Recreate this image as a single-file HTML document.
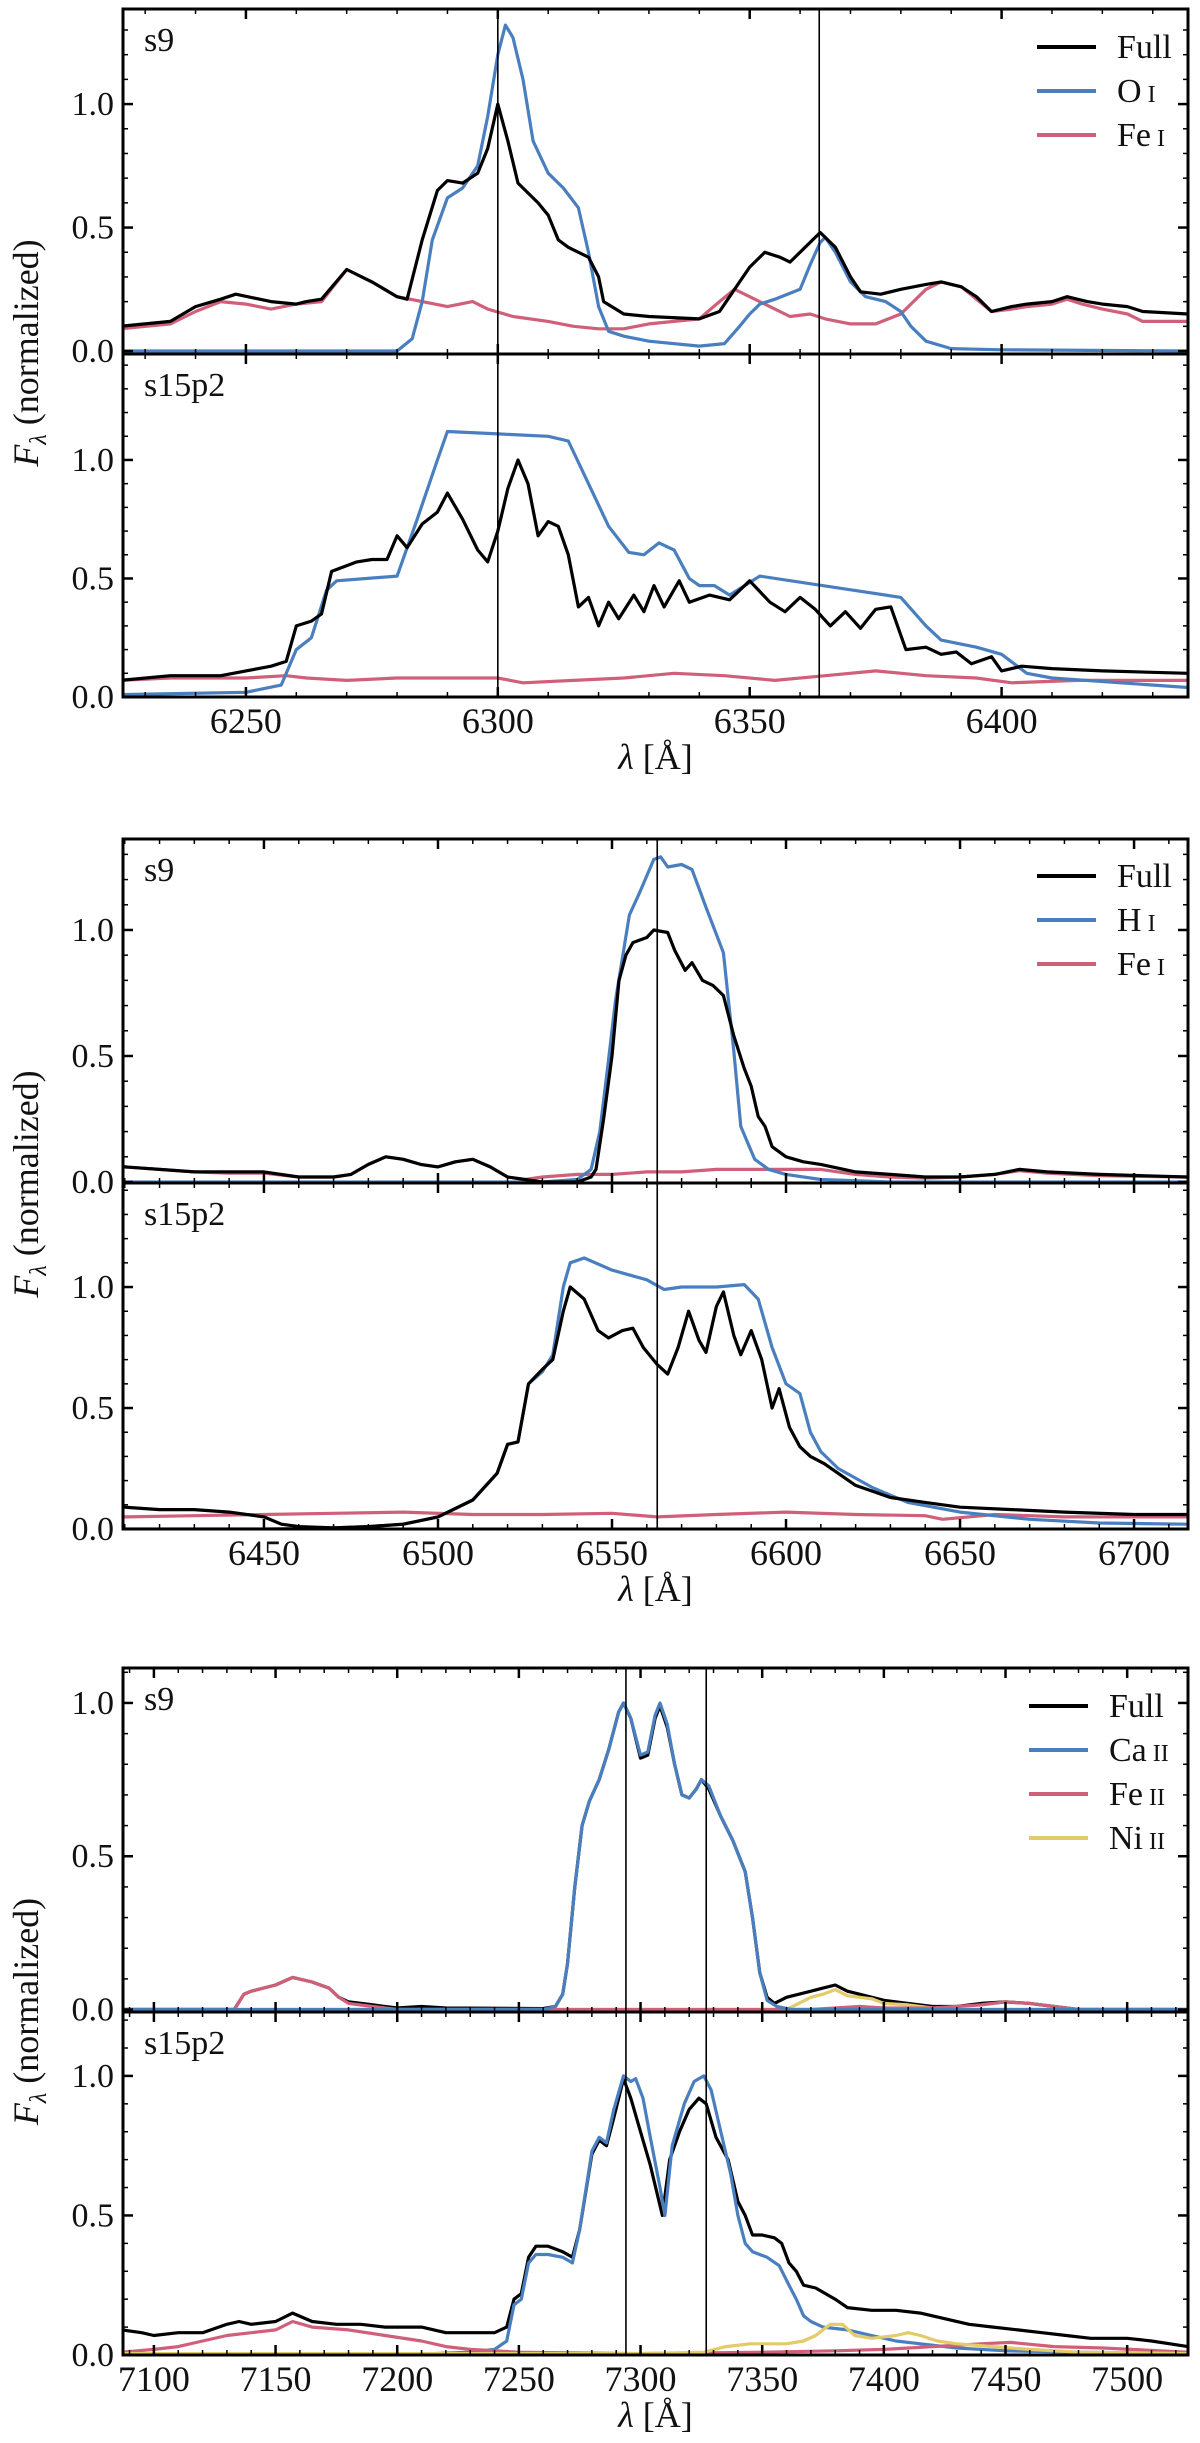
<!DOCTYPE html>
<html><head><meta charset="utf-8"><style>
html,body{margin:0;padding:0;background:#fff;}
svg{display:block;}
text{font-family:"Liberation Serif",serif;fill:#111;}
</style></head><body>
<svg id="chart" width="1200" height="2443" viewBox="0 0 1200 2443" xmlns="http://www.w3.org/2000/svg"></svg>
<script>
// ---------- Figure 1: [O I] 6300,6364 ----------
const f1TopFullX=[6225,6235,6240,6245,6248,6255,6260,6262,6265,6270,6275,6280,6282,6285,6288,6290,6293,6296,6298,6300,6302,6304,6308,6310,6312,6314,6316,6318,6320,6321,6325,6330,6340,6344,6346,6348,6350,6353,6356,6358,6361,6364,6367,6370,6372,6376,6380,6385,6388,6392,6395,6398,6402,6405,6410,6413,6417,6420,6425,6428,6437];
const f1TopFullY=[0.10,0.12,0.18,0.21,0.23,0.20,0.19,0.20,0.21,0.33,0.28,0.22,0.21,0.45,0.65,0.69,0.68,0.72,0.82,1.00,0.85,0.68,0.60,0.55,0.45,0.42,0.40,0.38,0.30,0.20,0.15,0.14,0.13,0.16,0.22,0.28,0.34,0.40,0.38,0.36,0.42,0.48,0.42,0.30,0.24,0.23,0.25,0.27,0.28,0.26,0.22,0.16,0.18,0.19,0.20,0.22,0.20,0.19,0.18,0.16,0.15];
const f1TopOX=[6225,6280,6283,6285,6287,6290,6293,6296,6298,6300,6301.5,6303,6305,6307,6310,6313,6316,6318,6320,6322,6325,6330,6340,6345,6348,6350,6352,6355,6360,6362,6364,6365,6367,6370,6373,6377,6380,6382,6385,6390,6400,6437];
const f1TopOY=[0,0,0.05,0.2,0.45,0.62,0.66,0.75,0.95,1.2,1.32,1.27,1.1,0.85,0.72,0.66,0.58,0.4,0.18,0.08,0.06,0.04,0.02,0.03,0.1,0.15,0.19,0.21,0.25,0.35,0.44,0.46,0.4,0.28,0.22,0.2,0.16,0.1,0.04,0.01,0.005,0];
const f1TopFeX=[6225,6235,6240,6245,6250,6255,6260,6265,6270,6275,6280,6285,6290,6295,6298,6303,6310,6315,6320,6325,6330,6335,6340,6344,6347,6350,6355,6358,6362,6365,6370,6375,6380,6385,6388,6392,6395,6398,6402,6405,6410,6413,6416,6420,6425,6428,6437];
const f1TopFeY=[0.09,0.11,0.16,0.2,0.19,0.17,0.19,0.2,0.33,0.28,0.22,0.2,0.18,0.2,0.17,0.14,0.12,0.1,0.09,0.09,0.11,0.12,0.13,0.2,0.25,0.22,0.17,0.14,0.15,0.13,0.11,0.11,0.15,0.25,0.28,0.26,0.21,0.16,0.17,0.18,0.19,0.21,0.19,0.17,0.15,0.12,0.12];
const f1BotFullX=[6225,6235,6245,6250,6255,6258,6260,6263,6265,6267,6272,6275,6278,6280,6282,6285,6288,6290,6293,6296,6298,6300,6302,6304,6306,6308,6310,6312,6314,6316,6318,6320,6322,6324,6327,6329,6331,6333,6336,6338,6342,6346,6350,6354,6357,6360,6363,6366,6369,6372,6375,6378,6381,6385,6388,6391,6394,6398,6400,6404,6410,6420,6437];
const f1BotFullY=[0.07,0.09,0.09,0.11,0.13,0.15,0.3,0.32,0.35,0.53,0.57,0.58,0.58,0.68,0.63,0.73,0.78,0.86,0.75,0.62,0.57,0.7,0.88,1.0,0.9,0.68,0.74,0.72,0.6,0.38,0.42,0.3,0.4,0.33,0.43,0.36,0.47,0.38,0.49,0.4,0.43,0.41,0.49,0.4,0.36,0.42,0.37,0.3,0.36,0.29,0.37,0.38,0.2,0.21,0.18,0.19,0.14,0.17,0.11,0.13,0.12,0.11,0.1];
const f1BotOX=[6225,6250,6257,6260,6263,6266,6268,6280,6284,6288,6290,6300,6310,6314,6318,6322,6326,6329,6332,6335,6338,6340,6343,6346,6352,6380,6385,6388,6395,6400,6405,6410,6437];
const f1BotOY=[0.01,0.02,0.05,0.2,0.25,0.45,0.49,0.51,0.75,1.0,1.12,1.11,1.1,1.08,0.9,0.72,0.61,0.6,0.65,0.62,0.5,0.47,0.47,0.43,0.51,0.42,0.3,0.24,0.21,0.18,0.1,0.08,0.04];
const f1BotFeX=[6225,6235,6250,6258,6262,6270,6280,6290,6300,6305,6315,6325,6335,6345,6355,6365,6375,6385,6395,6402,6415,6437];
const f1BotFeY=[0.07,0.08,0.08,0.09,0.08,0.07,0.08,0.08,0.08,0.06,0.07,0.08,0.1,0.09,0.07,0.09,0.11,0.09,0.08,0.06,0.07,0.07];

// ---------- Figure 2: H-alpha ----------
const f2TopFullX=[6410,6420,6430,6440,6450,6460,6470,6475,6480,6485,6490,6495,6500,6505,6510,6515,6520,6525,6530,6540,6544,6545.4,6547.6,6550,6552,6554,6556,6560,6562,6566,6568,6571,6573,6576,6579,6582,6585,6588,6590,6592,6594,6596,6600,6605,6610,6620,6630,6640,6650,6660,6667,6675,6690,6715];
const f2TopFullY=[0.06,0.05,0.04,0.04,0.04,0.02,0.02,0.03,0.07,0.1,0.09,0.07,0.06,0.08,0.09,0.06,0.02,0.01,0.0,0.0,0.02,0.05,0.25,0.5,0.8,0.9,0.95,0.97,1.0,0.99,0.92,0.84,0.87,0.8,0.78,0.74,0.58,0.45,0.38,0.26,0.22,0.14,0.1,0.08,0.07,0.04,0.03,0.02,0.02,0.03,0.05,0.04,0.03,0.02];
const f2TopHX=[6410,6530,6540,6544,6546.5,6548.7,6551,6555,6558,6562,6564,6566,6570,6573,6577,6582,6585,6587,6591,6595,6600,6610,6630,6715];
const f2TopHY=[0,0,0.01,0.05,0.2,0.45,0.72,1.06,1.15,1.28,1.29,1.25,1.26,1.24,1.09,0.91,0.52,0.22,0.09,0.05,0.03,0.01,0.0,0.0];
const f2TopFeX=[6410,6420,6430,6440,6450,6460,6470,6475,6480,6485,6490,6495,6500,6505,6510,6515,6520,6525,6530,6540,6550,6560,6570,6580,6590,6600,6610,6620,6630,6640,6650,6660,6667,6675,6690,6715];
const f2TopFeY=[0.06,0.05,0.04,0.035,0.035,0.02,0.02,0.03,0.07,0.1,0.09,0.07,0.06,0.08,0.09,0.06,0.02,0.01,0.02,0.03,0.03,0.04,0.04,0.05,0.05,0.05,0.05,0.03,0.02,0.015,0.02,0.03,0.045,0.035,0.025,0.02];
const f2BotFullX=[6410,6420,6430,6440,6450,6455,6460,6470,6480,6490,6500,6510,6517,6520,6523,6526,6530,6533,6536,6538,6542,6546,6549,6553,6556,6559,6563,6566,6569,6572,6575,6577,6580,6582,6585,6587,6590,6593,6596,6598,6601,6604,6607,6611,6620,6630,6640,6650,6665,6680,6700,6715];
const f2BotFullY=[0.09,0.08,0.08,0.07,0.05,0.02,0.01,0.005,0.01,0.02,0.05,0.12,0.23,0.35,0.36,0.6,0.66,0.7,0.9,1.0,0.95,0.82,0.79,0.82,0.83,0.75,0.68,0.64,0.75,0.9,0.78,0.73,0.92,0.98,0.8,0.72,0.82,0.7,0.5,0.58,0.42,0.34,0.3,0.27,0.18,0.13,0.11,0.09,0.08,0.07,0.06,0.06];
const f2BotHX=[6410,6450,6470,6480,6490,6500,6510,6517,6520,6523,6526,6530,6533,6536,6538,6542,6550,6560,6565,6570,6580,6588,6592,6596,6600,6604,6607,6610,6615,6625,6635,6650,6670,6690,6715];
const f2BotHY=[0,0,0.005,0.01,0.02,0.05,0.12,0.23,0.35,0.36,0.6,0.65,0.72,1.0,1.1,1.12,1.07,1.03,0.99,1.0,1.0,1.01,0.95,0.75,0.6,0.56,0.4,0.32,0.25,0.17,0.11,0.07,0.04,0.025,0.02];
const f2BotFeX=[6410,6430,6450,6470,6490,6510,6530,6550,6563,6580,6600,6620,6640,6645,6660,6680,6700,6715];
const f2BotFeY=[0.05,0.055,0.06,0.065,0.07,0.06,0.06,0.065,0.05,0.06,0.07,0.06,0.055,0.04,0.06,0.05,0.05,0.05];

// ---------- Figure 3: [Ca II] 7291,7323 ----------
const f3TopFullX=[7087,7133,7137,7140,7150,7157,7165,7172,7176,7180,7190,7200,7210,7220,7260,7265,7268,7270,7273,7276,7279,7283,7287,7291,7293,7296,7300,7303,7306,7308,7311,7314,7317,7320,7323,7325,7328,7333,7338,7343,7346,7349,7352,7355,7360,7370,7375,7380,7385,7390,7400,7410,7420,7430,7440,7450,7460,7470,7480,7525];
const f3TopFullY=[0,0,0.05,0.06,0.08,0.105,0.09,0.07,0.04,0.025,0.015,0.005,0.01,0.005,0.003,0.01,0.05,0.15,0.4,0.6,0.68,0.75,0.85,0.97,1.0,0.95,0.82,0.83,0.95,0.99,0.92,0.8,0.7,0.69,0.72,0.75,0.72,0.63,0.55,0.45,0.3,0.12,0.04,0.02,0.04,0.06,0.07,0.08,0.06,0.05,0.03,0.02,0.01,0.01,0.02,0.025,0.02,0.01,0.0,0.0];
const f3TopCaX=[7087,7260,7265,7268,7270,7273,7276,7279,7283,7287,7291,7293,7296,7300,7303,7306,7308,7311,7314,7317,7320,7323,7325,7328,7333,7338,7343,7346,7349,7352,7356,7362,7525];
const f3TopCaY=[0,0,0.01,0.05,0.15,0.4,0.6,0.68,0.75,0.85,0.97,1.0,0.95,0.83,0.84,0.96,1.0,0.93,0.8,0.7,0.69,0.72,0.75,0.73,0.63,0.55,0.45,0.3,0.12,0.03,0.01,0,0];
const f3TopFeX=[7087,7133,7137,7140,7150,7157,7165,7172,7176,7180,7190,7200,7370,7380,7390,7400,7420,7440,7450,7460,7470,7480,7525];
const f3TopFeY=[0,0,0.05,0.06,0.08,0.105,0.09,0.07,0.04,0.02,0.01,0,0,0.005,0.01,0.005,0.005,0.015,0.025,0.02,0.01,0,0];
const f3TopNiX=[7087,7360,7365,7370,7375,7380,7385,7390,7395,7400,7410,7415,7420,7430,7525];
const f3TopNiY=[0,0,0.02,0.04,0.05,0.065,0.045,0.04,0.035,0.02,0.015,0.01,0.005,0,0];
const f3BotFullX=[7087,7095,7100,7110,7120,7130,7135,7140,7150,7157,7165,7175,7185,7195,7210,7220,7240,7245,7248,7251,7254,7257,7262,7268,7272,7275,7280,7283,7286,7289,7293,7296,7300,7304,7309,7312,7316,7320,7324,7327,7331,7336,7340,7343,7346,7350,7355,7358,7361,7364,7367,7372,7380,7385,7395,7405,7415,7425,7435,7445,7455,7465,7475,7485,7500,7510,7525];
const f3BotFullY=[0.09,0.08,0.07,0.08,0.08,0.11,0.12,0.11,0.12,0.15,0.12,0.11,0.11,0.1,0.1,0.08,0.08,0.1,0.2,0.22,0.35,0.39,0.39,0.37,0.35,0.45,0.72,0.77,0.75,0.85,0.99,0.92,0.8,0.68,0.5,0.7,0.8,0.88,0.92,0.9,0.78,0.7,0.55,0.5,0.43,0.43,0.42,0.4,0.33,0.3,0.25,0.24,0.2,0.17,0.16,0.16,0.15,0.13,0.11,0.1,0.09,0.08,0.07,0.06,0.06,0.05,0.03];
const f3BotCaX=[7087,7200,7230,7240,7245,7248,7251,7254,7257,7262,7268,7272,7275,7280,7283,7286,7289,7293,7296,7298,7301,7304,7308,7310,7313,7318,7322,7326,7329,7333,7337,7340,7343,7346,7352,7357,7361,7364,7367,7370,7375,7385,7395,7405,7415,7430,7450,7480,7525];
const f3BotCaY=[0,0,0.01,0.02,0.05,0.18,0.2,0.33,0.36,0.36,0.35,0.33,0.45,0.73,0.78,0.76,0.88,1.0,0.98,0.99,0.92,0.78,0.6,0.5,0.75,0.9,0.98,1.0,0.95,0.8,0.65,0.5,0.4,0.37,0.35,0.32,0.25,0.2,0.14,0.12,0.1,0.09,0.07,0.05,0.04,0.025,0.015,0.01,0.005];
const f3BotFeX=[7087,7100,7110,7120,7130,7140,7150,7157,7165,7180,7195,7210,7220,7230,7250,7300,7350,7380,7400,7420,7440,7452,7470,7490,7525];
const f3BotFeY=[0.01,0.02,0.03,0.05,0.07,0.08,0.09,0.12,0.1,0.09,0.07,0.05,0.03,0.02,0.01,0.005,0.01,0.015,0.02,0.03,0.04,0.045,0.03,0.025,0.01];
const f3BotNiX=[7087,7300,7326,7335,7345,7360,7367,7372,7378,7383,7388,7395,7405,7410,7415,7422,7430,7445,7460,7480,7525];
const f3BotNiY=[0.005,0.005,0.01,0.03,0.04,0.04,0.05,0.07,0.11,0.11,0.07,0.06,0.07,0.08,0.07,0.05,0.04,0.03,0.02,0.01,0.005];

const figXTicks1=[6250,6300,6350,6400];
const figXTicks2=[6450,6500,6550,6600,6650,6700];
const figXTicks3=[7100,7150,7200,7250,7300,7350,7400,7450,7500];
const yTickLabels=["0.0","0.5","1.0"];
const yTickVals=[0,0.5,1.0];
const vlines1=[6300,6363.8];
const vlines2=[6563];
const vlines3=[7294,7327];

const NS="http://www.w3.org/2000/svg";
const svg=document.getElementById('chart');
const C={full:'#000000',blue:'#4a7fbf',red:'#d0607a',yel:'#e3cb6a'};
const L=123,R=1188;
function mk(tag,attrs,parent){const e=document.createElementNS(NS,tag);for(const k in attrs)e.setAttribute(k,attrs[k]);(parent||svg).appendChild(e);return e;}

function drawFigure(fig){
  const g=mk('g',{});
  
  
  const xs=v=>L+(v-fig.xmin)/(fig.xmax-fig.xmin)*(R-L);
  fig.panels.forEach((p,pi)=>{
    const ys=v=>p.y1-(v-p.ymin)/(p.ymax-p.ymin)*(p.y1-p.y0);
    const pg=mk('g',{},g);
    
    
    const clipId=fig.name+'clip'+pi;
    const cp=mk('clipPath',{id:clipId},pg);mk('rect',{x:L,y:p.y0,width:R-L,height:p.y1-p.y0},cp);
    const sg=mk('g',{'clip-path':'url(#'+clipId+')'},pg);
    p.series.forEach(s=>{
      let d='';s.x.forEach((xv,i)=>{d+=(i?'L':'M')+xs(xv).toFixed(1)+','+ys(s.y[i]).toFixed(1);});
      const path=mk('path',{d:d,fill:'none',stroke:s.c,'stroke-width':3.2,'stroke-linejoin':'round','stroke-linecap':'round'},sg);
      
      
    });
    // ticks
    for(let v=Math.ceil(fig.xmin/10)*10;v<=fig.xmax;v+=10){
      const maj=v%50===0, len=maj?10:5, x=xs(v);
      mk('line',{x1:x,x2:x,y1:p.y1,y2:p.y1-len,stroke:'#000','stroke-width':maj?2.5:1.5},pg);
      mk('line',{x1:x,x2:x,y1:p.y0,y2:p.y0+len,stroke:'#000','stroke-width':maj?2.5:1.5},pg);
    }
    for(let k=0;k<=Math.floor(p.ymax*10+1e-6);k++){
      const v=k/10, maj=k%5===0, len=maj?10:5, y=ys(v);
      if(v<p.ymin)continue;
      mk('line',{x1:L,x2:L+len,y1:y,y2:y,stroke:'#000','stroke-width':maj?2.5:1.5},pg);
      mk('line',{x1:R,x2:R-len,y1:y,y2:y,stroke:'#000','stroke-width':maj?2.5:1.5},pg);
    }
    yTickVals.forEach((v,i)=>{
      const t=mk('text',{x:114,y:ys(v)+11,'text-anchor':'end','font-size':34},pg);
      t.textContent=yTickLabels[i];
      
      
    });
    const pl=mk('text',{x:144,y:p.y0+42,'font-size':34},pg);
    pl.textContent=p.label;
    
    
    const fr=mk('rect',{x:L,y:p.y0,width:R-L,height:p.y1-p.y0,fill:'none',stroke:'#000','stroke-width':3},pg);
    
    
  });
  const top=fig.panels[0].y0, bot=fig.panels[1].y1;
  fig.vlines.forEach(v=>{
    const l=mk('line',{x1:xs(v),x2:xs(v),y1:top,y2:bot,stroke:'#000','stroke-width':1.6},g);
    
    
  });
  fig.xticks.forEach(v=>{
    const t=mk('text',{x:xs(v),y:bot+36,'text-anchor':'middle','font-size':36},g);
    t.textContent=String(v);
    
    
  });
  const xl=mk('text',{x:(L+R)/2,y:bot+72,'text-anchor':'middle','font-size':36},g);
  xl.innerHTML='<tspan font-style="italic">λ</tspan> [Å]';
  
  
  const cy=(top+bot)/2;
  const yl=mk('text',{x:38,y:cy,'text-anchor':'middle','font-size':36,transform:'rotate(-90 38 '+cy+')'},g);
  yl.innerHTML='<tspan font-style="italic">F</tspan><tspan font-style="italic" font-size="24" dy="8">λ</tspan><tspan dy="-8"> (normalized)</tspan>';
  
  
  // legend
  const lg=mk('g',{},g);
  
  
  fig.legend.forEach((e,i)=>{
    const y=fig.legY+i*fig.legDy;
    mk('line',{x1:fig.legX,x2:fig.legX+59,y1:y,y2:y,stroke:e.c,'stroke-width':4},lg);
    const t=mk('text',{x:fig.legX+80,y:y+11,'font-size':34},lg);
    t.innerHTML=e.t;
    
    
  });
}

drawFigure({name:'figure-oi',xmin:6225.6,xmax:6437,xticks:figXTicks1,vlines:vlines1,legX:1037,legY:47,legDy:44,
  legend:[{t:'Full',c:C.full},{t:'O<tspan font-size="24"> I</tspan>',c:C.blue},{t:'Fe<tspan font-size="24"> I</tspan>',c:C.red}],
  panels:[{label:'s9',y0:9,y1:354,ymin:-0.012,ymax:1.385,series:[
      {n:'fe-i',x:f1TopFeX,y:f1TopFeY,c:C.red},{n:'o-i',x:f1TopOX,y:f1TopOY,c:C.blue},{n:'full',x:f1TopFullX,y:f1TopFullY,c:C.full}]},
    {label:'s15p2',y0:354,y1:697,ymin:0,ymax:1.447,series:[
      {n:'fe-i',x:f1BotFeX,y:f1BotFeY,c:C.red},{n:'o-i',x:f1BotOX,y:f1BotOY,c:C.blue},{n:'full',x:f1BotFullX,y:f1BotFullY,c:C.full}]}]});
drawFigure({name:'figure-halpha',xmin:6409.5,xmax:6715.5,xticks:figXTicks2,vlines:vlines2,legX:1037,legY:876,legDy:44,
  legend:[{t:'Full',c:C.full},{t:'H<tspan font-size="24"> I</tspan>',c:C.blue},{t:'Fe<tspan font-size="24"> I</tspan>',c:C.red}],
  panels:[{label:'s9',y0:839,y1:1183,ymin:-0.004,ymax:1.361,series:[
      {n:'fe-i',x:f2TopFeX,y:f2TopFeY,c:C.red},{n:'h-i',x:f2TopHX,y:f2TopHY,c:C.blue},{n:'full',x:f2TopFullX,y:f2TopFullY,c:C.full}]},
    {label:'s15p2',y0:1183,y1:1529,ymin:0,ymax:1.43,series:[
      {n:'fe-i',x:f2BotFeX,y:f2BotFeY,c:C.red},{n:'h-i',x:f2BotHX,y:f2BotHY,c:C.blue},{n:'full',x:f2BotFullX,y:f2BotFullY,c:C.full}]}]});
drawFigure({name:'figure-caii',xmin:7087.3,xmax:7525,xticks:figXTicks3,vlines:vlines3,legX:1029,legY:1706,legDy:44,
  legend:[{t:'Full',c:C.full},{t:'Ca<tspan font-size="24"> II</tspan>',c:C.blue},{t:'Fe<tspan font-size="24"> II</tspan>',c:C.red},{t:'Ni<tspan font-size="24"> II</tspan>',c:C.yel}],
  panels:[{label:'s9',y0:1668,y1:2012,ymin:-0.008,ymax:1.114,series:[
      {n:'full',x:f3TopFullX,y:f3TopFullY,c:C.full},{n:'ni-ii',x:f3TopNiX,y:f3TopNiY,c:C.yel},{n:'fe-ii',x:f3TopFeX,y:f3TopFeY,c:C.red},{n:'ca-ii',x:f3TopCaX,y:f3TopCaY,c:C.blue}]},
    {label:'s15p2',y0:2012,y1:2355,ymin:0,ymax:1.229,series:[
      {n:'full',x:f3BotFullX,y:f3BotFullY,c:C.full},{n:'ca-ii',x:f3BotCaX,y:f3BotCaY,c:C.blue},{n:'fe-ii',x:f3BotFeX,y:f3BotFeY,c:C.red},{n:'ni-ii',x:f3BotNiX,y:f3BotNiY,c:C.yel}]}]});
</script>
</body></html>
